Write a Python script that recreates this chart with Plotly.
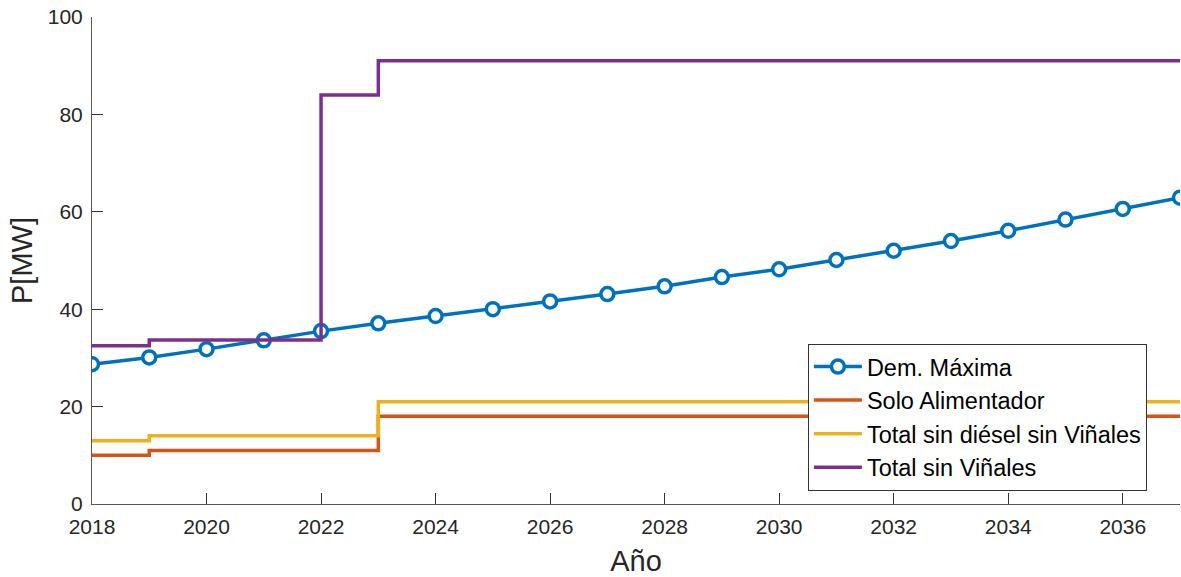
import plotly.graph_objects as go

years = list(range(2018, 2038))
dem_maxima = [28.7, 30.1, 31.8, 33.6, 35.5, 37.1, 38.6, 40.0, 41.6, 43.1,
              44.7, 46.6, 48.2, 50.1, 52.0, 54.0, 56.1, 58.4, 60.6, 62.9]
solo_alimentador = [10] + [11] * 4 + [18] * 15
total_sin_diesel = [13] + [14] * 4 + [21] * 15
total_sin_vinales = [32.5] + [33.7] * 3 + [84] + [91] * 15

x_ticks = list(range(2018, 2037, 2))
y_ticks = [0, 20, 40, 60, 80, 100]

LW = 3.5
fig = go.Figure()
fig.add_trace(go.Scatter(x=years, y=dem_maxima, name="Dem. Máxima", mode="lines+markers",
                         line=dict(color="#0072BD", width=LW),
                         marker=dict(symbol="circle", size=13, color="white",
                                     line=dict(color="#0072BD", width=3.5))))
fig.add_trace(go.Scatter(x=years, y=solo_alimentador, name="Solo Alimentador", mode="lines",
                         line=dict(color="#D95319", width=LW, shape="hv")))
fig.add_trace(go.Scatter(x=years, y=total_sin_diesel, name="Total sin diésel sin Viñales", mode="lines",
                         line=dict(color="#EDB120", width=LW, shape="hv")))
fig.add_trace(go.Scatter(x=years, y=total_sin_vinales, name="Total sin Viñales", mode="lines",
                         line=dict(color="#7E2F8E", width=LW, shape="hv")))

axis_common = dict(showgrid=False, zeroline=False, showline=True, linecolor="#555555",
                   linewidth=1, ticks="inside", ticklen=11, tickcolor="#333333",
                   tickfont=dict(size=21, color="#262626"), mirror=False)

fig.update_layout(
    width=1181, height=577,
    margin=dict(l=92, r=1, t=17, b=73),
    paper_bgcolor="white", plot_bgcolor="white",
    font=dict(family="Liberation Sans, Arial, sans-serif", color="#262626"),
    xaxis=dict(range=[2018, 2037], tickvals=x_ticks, ticklabelstandoff=4,
               title=dict(text="Año", font=dict(size=29, color="#262626"), standoff=14),
               **axis_common),
    yaxis=dict(range=[0, 100], tickvals=y_ticks, ticklabelstandoff=4,
               title=dict(text="P[MW]", font=dict(size=29, color="#262626"), standoff=6),
               **axis_common),
    legend=dict(x=0.658, y=0.329, xanchor="left", yanchor="top",
                bgcolor="white", bordercolor="#333333", borderwidth=1,
                font=dict(size=23.5, color="black"), tracegroupgap=0, itemwidth=48),
    showlegend=True,
)

fig.write_html("out.html", config={"displayModeBar": False},
               post_script="document.body.style.margin='0';document.body.style.overflow='hidden';")
